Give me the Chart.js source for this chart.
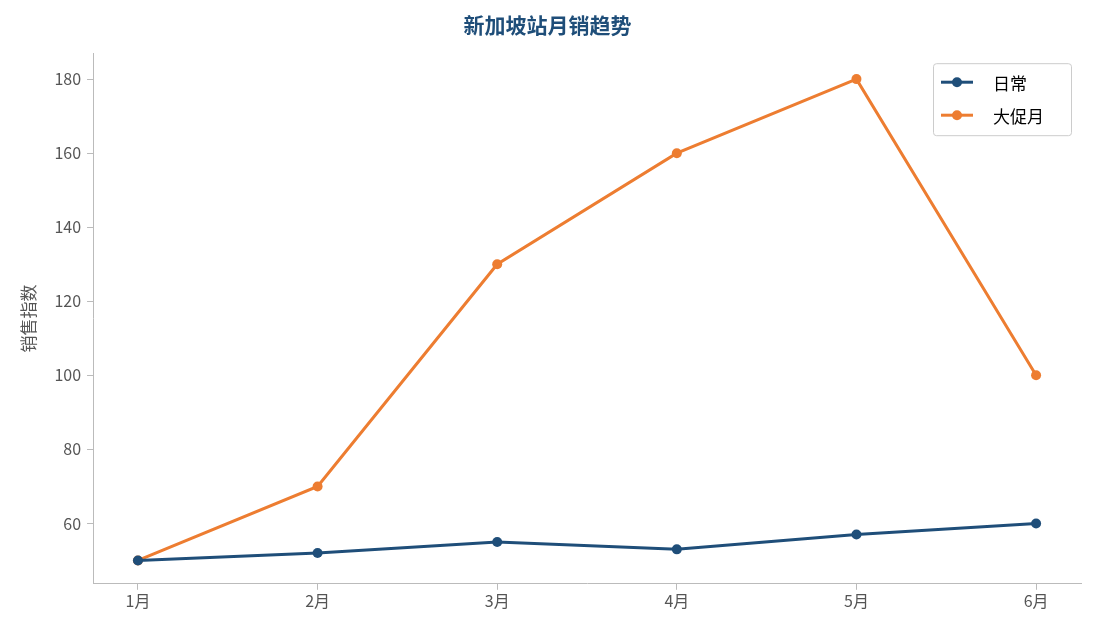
<!DOCTYPE html>
<html><head><meta charset="utf-8">
<script src="https://cdn.jsdelivr.net/npm/chart.js@4"></script>
<style>html,body{margin:0;padding:0;background:#fff}#w{width:1095px;height:629px}</style>
</head><body><div id="w"><canvas id="c"></canvas></div>
<script>
const categories = ['1月','2月','3月','4月','5月','6月'];
const dailyValues = [50, 52, 55, 53, 57, 60];
const promoValues = [50, 70, 130, 160, 180, 100];
const seriesNames = ['日常','大促月'];
const colors = ['#1f4e79','#ed7d31'];
const FONT = "'Noto Sans CJK SC','Noto Sans',sans-serif";

const legendPlugin = {
  id:'boxLegend',
  afterDraw(chart){
    const ctx = chart.ctx, a = chart.chartArea;
    const w = 138, h = 72, x = a.right - w - 10, y = a.top + 10;
    ctx.save();
    ctx.fillStyle='rgba(255,255,255,0.9)';
    ctx.strokeStyle='#cccccc'; ctx.lineWidth=1;
    ctx.beginPath(); ctx.roundRect(x+0.5,y+0.5,w,h,3); ctx.fill(); ctx.stroke();
    ctx.font = "17px "+FONT; ctx.textBaseline='middle';
    seriesNames.forEach((n,i)=>{
      const cy = y + 19 + i*33;
      ctx.strokeStyle=colors[i]; ctx.lineWidth=3;
      ctx.beginPath(); ctx.moveTo(x+8,cy); ctx.lineTo(x+40,cy); ctx.stroke();
      ctx.fillStyle=colors[i]; ctx.beginPath(); ctx.arc(x+24,cy,5,0,Math.PI*2); ctx.fill();
      ctx.fillStyle='#000'; ctx.fillText(n, x+60, cy+1);
    });
    ctx.restore();
  }
};

const mk = (vals)=>vals.map((v,i)=>({x:i,y:v}));
new Chart(document.getElementById('c'),{
  type:'line',
  data:{datasets:[
    {label:seriesNames[0],data:mk(dailyValues),borderColor:colors[0],backgroundColor:colors[0],borderWidth:3,pointRadius:5,pointBorderWidth:0,pointHoverRadius:5},
    {label:seriesNames[1],data:mk(promoValues),borderColor:colors[1],backgroundColor:colors[1],borderWidth:3,pointRadius:5,pointBorderWidth:0,pointHoverRadius:5}
  ]},
  options:{
    responsive:true,maintainAspectRatio:false,animation:false,
    layout:{padding:{left:14,right:14,top:12,bottom:16}},
    plugins:{
      legend:{display:false},tooltip:{enabled:false},
      title:{display:true,text:'新加坡站月销趋势',color:'#1f4e79',font:{family:FONT,size:21,weight:'bold'},padding:{top:0,bottom:16}}
    },
    scales:{
      x:{type:'linear',min:-0.25,max:5.25,grid:{drawOnChartArea:false,color:'#bbbbbb',tickLength:6},border:{color:'#bbbbbb'},
        afterBuildTicks(s){s.ticks=categories.map((_,i)=>({value:i}));},
        ticks:{color:'#555',font:{family:FONT,size:16},padding:2,callback:(v)=>categories[v]??''}},
      y:{min:43.7,max:187,grid:{drawOnChartArea:false,color:'#bbbbbb',tickLength:6},border:{color:'#bbbbbb'},
        afterBuildTicks(s){s.ticks=[60,80,100,120,140,160,180].map(v=>({value:v}));},
        ticks:{color:'#555',font:{family:FONT,size:16},padding:6},
        title:{display:true,text:'销售指数',color:'#555',font:{family:FONT,size:17},padding:{bottom:10}}}
    }
  },
  plugins:[legendPlugin]
});
</script></body></html>
